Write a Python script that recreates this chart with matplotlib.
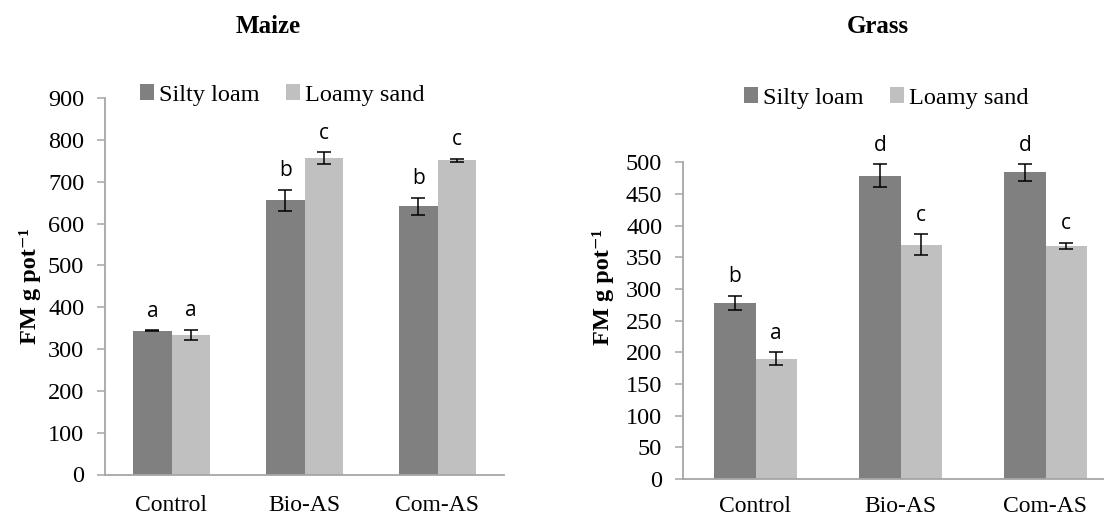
import numpy as np
from matplotlib import pyplot as plt

categories = ["Control", "Bio-AS", "Com-AS"]
series_names = ["Silty loam", "Loamy sand"]

maize_silty = [344, 656, 641]
maize_silty_err = [1, 25, 21]
maize_loamy = [334, 756, 751]
maize_loamy_err = [12, 14, 4]
maize_letters_silty = ["a", "b", "b"]
maize_letters_loamy = ["a", "c", "c"]

grass_silty = [278, 479, 484]
grass_silty_err = [11.5, 18.5, 13.5]
grass_loamy = [190, 370, 368]
grass_loamy_err = [10.5, 17, 5]
grass_letters_silty = ["b", "d", "d"]
grass_letters_loamy = ["a", "c", "c"]

DARK = "#808080"
LIGHT = "#c0c0c0"
AXIS = "#a6a6a6"
SERIF = "Liberation Serif"
SANS = "Open Sans"
FS = 17.5

W, H = 1104, 517
fig = plt.figure(figsize=(W / 100, H / 100), dpi=100)


def draw_panel(ax, title, silty, silty_err, loamy, loamy_err, let_s, let_l,
               ymax, step, w, xpad, label_xy, legend_xy, title_xy):
    x = np.arange(len(categories))
    ekw = dict(ecolor="black", elinewidth=1.1, capsize=5, capthick=1.1)
    ax.bar(x - w / 2, silty, w, color=DARK, yerr=silty_err, error_kw=ekw,
           label=series_names[0])
    ax.bar(x + w / 2, loamy, w, color=LIGHT, yerr=loamy_err, error_kw=ekw,
           label=series_names[1])
    for i in range(len(categories)):
        ax.annotate(let_s[i], (x[i] - w / 2, silty[i] + silty_err[i]),
                    xytext=(0, 6), textcoords="offset points", ha="center",
                    va="bottom", fontsize=15, family=SANS)
        ax.annotate(let_l[i], (x[i] + w / 2, loamy[i] + loamy_err[i]),
                    xytext=(0, 6), textcoords="offset points", ha="center",
                    va="bottom", fontsize=15, family=SANS)
    ax.set_xlim(-0.5, 2.5)
    ax.set_ylim(0, ymax)
    ax.set_yticks(np.arange(0, ymax + 1, step))
    ax.set_xticks(x)
    ax.set_xticklabels(categories, family=SERIF, fontsize=17)
    for lab in ax.get_yticklabels():
        lab.set_family(SERIF)
        lab.set_fontsize(FS)
    ax.tick_params(axis="x", length=0, pad=xpad)
    ax.tick_params(axis="y", length=6, width=1.1, color=AXIS, pad=9)
    for s in ["top", "right"]:
        ax.spines[s].set_visible(False)
    for s in ["left", "bottom"]:
        ax.spines[s].set_color(AXIS)
        ax.spines[s].set_linewidth(1.3)
    ax.set_ylabel("FM g pot\u207b\u00b9", family=[SERIF, "DejaVu Serif"],
                  fontweight="bold", fontsize=FS)
    ax.yaxis.set_label_coords(*label_xy)
    fig.text(title_xy[0] / W, 1 - title_xy[1] / H, title, ha="center",
             va="center", family=SERIF, fontweight="bold", fontsize=18)
    fig.legend(handles=ax.patches[:1] + ax.patches[3:4],
               labels=series_names, loc="center left",
               bbox_to_anchor=(legend_xy[0] / W, 1 - legend_xy[1] / H),
               ncol=2, frameon=False, handlelength=0.58, handleheight=0.58,
               handletextpad=0.2, columnspacing=1.1, borderpad=0,
               borderaxespad=0, prop=dict(family=SERIF, size=FS))


ax1 = fig.add_axes([105 / W, 1 - 474.5 / H, 399 / W, 376.5 / H])
draw_panel(ax1, "Maize", maize_silty, maize_silty_err, maize_loamy,
           maize_loamy_err, maize_letters_silty, maize_letters_loamy,
           900, 100, 0.287, 15, (-0.16, 0.5), (140, 95), (268, 27))

ax2 = fig.add_axes([683 / W, 1 - 479 / H, 435 / W, 316.7 / H])
draw_panel(ax2, "Grass", grass_silty, grass_silty_err, grass_loamy,
           grass_loamy_err, grass_letters_silty, grass_letters_loamy,
           500, 50, 0.283, 12, (-0.158, 0.606), (744, 98), (878, 27))

fig.savefig("out.png", dpi=100)
